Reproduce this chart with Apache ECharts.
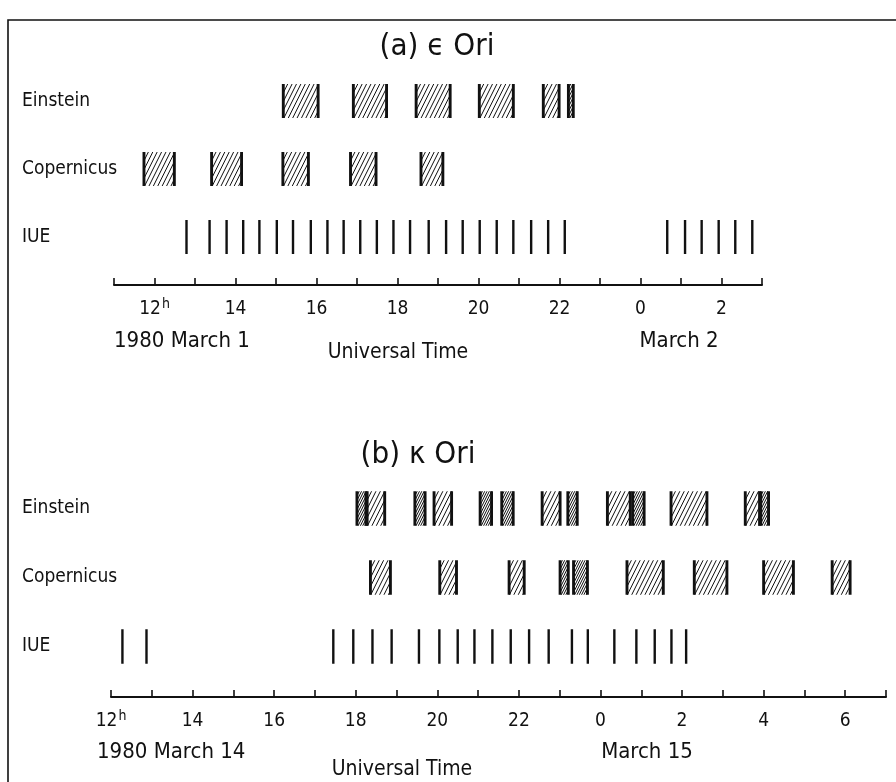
<!DOCTYPE html>
<html>
<head>
<meta charset="utf-8">
<script src="https://cdn.jsdelivr.net/npm/echarts@6/dist/echarts.min.js"></script>
<style>
html,body{margin:0;padding:0;background:#fff;}
#chart{width:896px;height:782px;}
</style>
</head>
<body>
<div id="chart"></div>
<script>
// ---------------- DATA (hours UT; values > 24 are on the following day) ----------------
const rowNames = ['IUE', 'Copernicus', 'Einstein'];

// Panel (a) epsilon Ori, 1980 March 1-2
const einsteinA = [[15.18,16.04],[16.91,17.73],[18.46,19.30],[20.02,20.86],[21.60,21.99],[22.22,22.34]];
const copernicusA = [[11.74,12.49],[13.41,14.15],[15.17,15.80],[16.84,17.47],[18.58,19.12]];
const iueA = [12.79,13.36,13.78,14.19,14.59,15.02,15.42,15.86,16.27,16.67,17.08,17.49,17.90,18.31,18.77,19.20,19.61,20.03,20.45,20.86,21.30,21.72,22.13,24.66,25.10,25.51,25.93,26.34,26.76];
const axisRangeA = [11, 27];
const tickLabelHoursA = [12,14,16,18,20,22,24,26];
const tickLabelsA = ['12','14','16','18','20','22','0','2'];

// Panel (b) kappa Ori, 1980 March 14-15
const einsteinB = [[18.03,18.25],[18.28,18.71],[19.45,19.70],[19.92,20.35],[21.05,21.33],[21.58,21.86],[22.57,23.01],[23.20,23.43],[24.17,24.73],[24.79,25.07],[25.73,26.61],[27.55,27.90],[27.93,28.12]];
const copernicusB = [[18.36,18.85],[20.06,20.47],[21.76,22.13],[23.01,23.21],[23.34,23.68],[24.65,25.54],[26.30,27.10],[28.00,28.73],[29.68,30.12]];
const iueB = [12.28,12.87,17.45,17.94,18.41,18.88,19.55,20.05,20.50,20.91,21.35,21.80,22.25,22.73,23.30,23.69,24.34,24.88,25.33,25.74,26.10];
const axisRangeB = [12, 31];
const tickLabelHoursB = [12,14,16,18,20,22,24,26,28,30];
const tickLabelsB = ['12','14','16','18','20','22','0','2','4','6'];

// ---------------- RENDERING ----------------
const FONT = "'Liberation Sans Narrow','DejaVu Sans Condensed','Liberation Sans',sans-serif";
const INK = '#111';

function boxItem(params, api) {
  const s = api.coord([api.value(0), api.value(2)]);
  const e = api.coord([api.value(1), api.value(2)]);
  const band = api.size([0, 1])[1];
  const hh = band * 0.5;
  const x0 = s[0], x1 = e[0], y0 = s[1] - hh / 2, y1 = s[1] + hh / 2;
  const w = x1 - x0;
  const d = w < 14 ? 2.3 : 4.4;
  const k = 0.5;
  const children = [];
  for (let c = x0 - k * (y1 - y0); c < x1; c += d) {
    const yTop = Math.max(y0, y1 - (x1 - c) / k);
    const yBot = Math.min(y1, y1 - (x0 - c) / k);
    if (yTop < yBot) {
      children.push({
        type: 'line',
        shape: {x1: c + k * (y1 - yBot), y1: yBot, x2: c + k * (y1 - yTop), y2: yTop},
        style: {stroke: INK, lineWidth: 1}
      });
    }
  }
  [x0, x1].forEach(function (x) {
    children.push({type: 'line', shape: {x1: x, y1: y0, x2: x, y2: y1}, style: {stroke: INK, lineWidth: 2.9}});
  });
  return {type: 'group', children: children};
}

function tickItem(params, api) {
  const p = api.coord([api.value(0), api.value(1)]);
  const band = api.size([0, 1])[1];
  const hh = band * 0.5;
  return {type: 'line', shape: {x1: p[0], y1: p[1] - hh / 2, x2: p[0], y2: p[1] + hh / 2},
          style: {stroke: INK, lineWidth: 2.4}};
}

function labelFormatter(hours, labels) {
  return function (v) {
    const i = hours.indexOf(v);
    if (i < 0) return '';
    if (i === 0) return '{n|' + labels[i] + '}{s|h}';
    return '{n|' + labels[i] + '}';
  };
}

function makeXAxis(gridIndex, range, hours, labels, offset) {
  return {
    type: 'value', gridIndex: gridIndex, min: range[0], max: range[1], interval: 1,
    position: 'bottom', offset: offset,
    axisLine: {show: true, lineStyle: {color: INK, width: 2}},
    axisTick: {show: true, inside: true, length: 7, lineStyle: {color: INK, width: 1.6}},
    splitLine: {show: false},
    axisLabel: {
      show: true, margin: 12, color: INK, fontFamily: FONT, fontSize: 19,
      showMinLabel: true, showMaxLabel: true,
      formatter: labelFormatter(hours, labels),
      rich: {
        n: {fontFamily: FONT, fontSize: 19, lineHeight: 25, color: INK},
        s: {fontFamily: FONT, fontSize: 14, lineHeight: 14, color: INK, padding: [0, 0, 11, 1]}
      }
    }
  };
}

function makeYAxis(gridIndex, margin) {
  return {
    type: 'category', gridIndex: gridIndex, data: rowNames,
    axisLine: {show: false}, axisTick: {show: false}, splitLine: {show: false},
    axisLabel: {show: true, align: 'left', margin: margin, color: INK, fontFamily: FONT, fontSize: 19}
  };
}

function rows(arr, name) { return arr.map(function (r) { return [r[0], r[1], name]; }); }
function ticks(arr) { return arr.map(function (t) { return [t, 'IUE']; }); }

const chart = echarts.init(document.getElementById('chart'), null, {renderer: 'canvas'});

const option = {
  backgroundColor: '#fff',
  animation: false,
  grid: [
    {left: 114, width: 648, top: 67, height: 204},
    {left: 111, width: 775, top: 474, height: 207}
  ],
  xAxis: [
    makeXAxis(0, axisRangeA, tickLabelHoursA, tickLabelsA, 14),
    makeXAxis(1, axisRangeB, tickLabelHoursB, tickLabelsB, 16)
  ],
  yAxis: [makeYAxis(0, 92), makeYAxis(1, 89)],
  series: [
    {type: 'custom', xAxisIndex: 0, yAxisIndex: 0, renderItem: boxItem, encode: {x: [0, 1], y: 2}, data: rows(einsteinA, 'Einstein')},
    {type: 'custom', xAxisIndex: 0, yAxisIndex: 0, renderItem: boxItem, encode: {x: [0, 1], y: 2}, data: rows(copernicusA, 'Copernicus')},
    {type: 'custom', xAxisIndex: 0, yAxisIndex: 0, renderItem: tickItem, encode: {x: 0, y: 1}, data: ticks(iueA)},
    {type: 'custom', xAxisIndex: 1, yAxisIndex: 1, renderItem: boxItem, encode: {x: [0, 1], y: 2}, data: rows(einsteinB, 'Einstein')},
    {type: 'custom', xAxisIndex: 1, yAxisIndex: 1, renderItem: boxItem, encode: {x: [0, 1], y: 2}, data: rows(copernicusB, 'Copernicus')},
    {type: 'custom', xAxisIndex: 1, yAxisIndex: 1, renderItem: tickItem, encode: {x: 0, y: 1}, data: ticks(iueB)}
  ],
  graphic: [
    {type: 'rect', shape: {x: 8, y: 20, width: 900, height: 800}, style: {fill: 'none', stroke: INK, lineWidth: 1.6}, z: 0},
    {type: 'text', x: 437, y: 47, style: {text: '(a) ϵ Ori', font: '31px ' + FONT, fill: INK, textAlign: 'center', textVerticalAlign: 'middle'}},
    {type: 'text', x: 114, y: 341, style: {text: '1980 March 1', font: '22px ' + FONT, fill: INK, textAlign: 'left', textVerticalAlign: 'middle'}},
    {type: 'text', x: 398, y: 353, style: {text: 'Universal Time', font: '21px ' + FONT, fill: INK, textAlign: 'center', textVerticalAlign: 'middle'}},
    {type: 'text', x: 679, y: 341, style: {text: 'March 2', font: '22px ' + FONT, fill: INK, textAlign: 'center', textVerticalAlign: 'middle'}},
    {type: 'text', x: 418, y: 455, style: {text: '(b) κ Ori', font: '31px ' + FONT, fill: INK, textAlign: 'center', textVerticalAlign: 'middle'}},
    {type: 'text', x: 97, y: 752, style: {text: '1980 March 14', font: '22px ' + FONT, fill: INK, textAlign: 'left', textVerticalAlign: 'middle'}},
    {type: 'text', x: 402, y: 770, style: {text: 'Universal Time', font: '21px ' + FONT, fill: INK, textAlign: 'center', textVerticalAlign: 'middle'}},
    {type: 'text', x: 647, y: 752, style: {text: 'March 15', font: '22px ' + FONT, fill: INK, textAlign: 'center', textVerticalAlign: 'middle'}}
  ]
};
chart.setOption(option);
</script>
</body>
</html>
